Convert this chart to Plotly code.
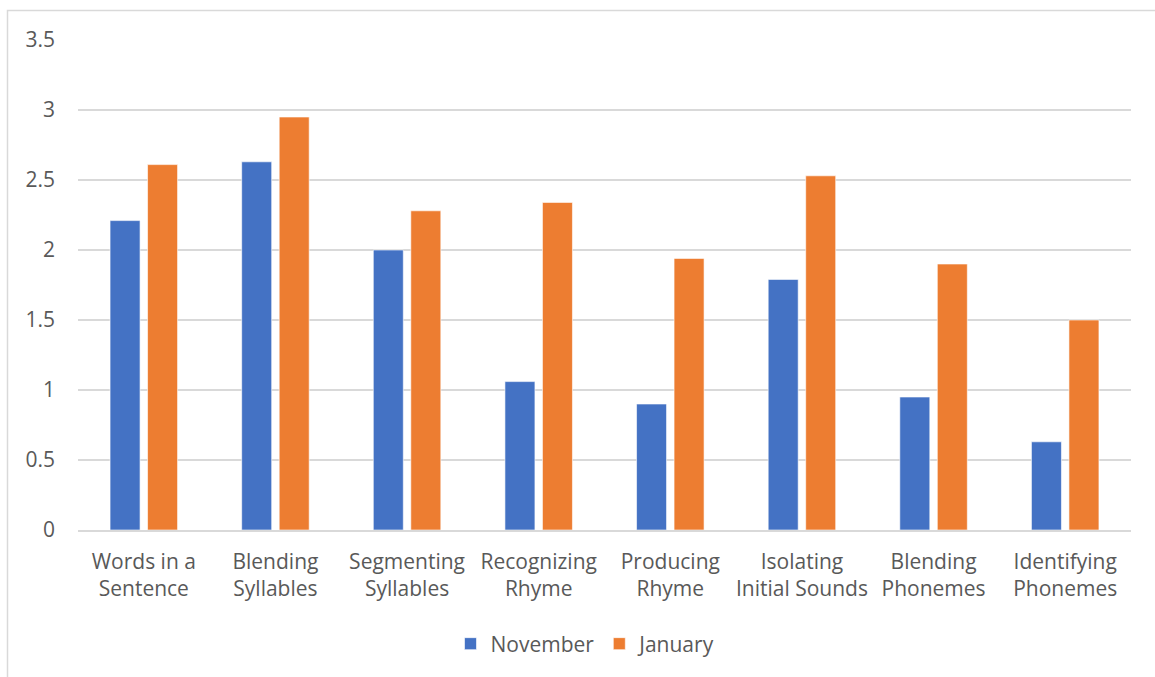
import plotly.graph_objects as go

categories = ["Words in a<br>Sentence", "Blending<br>Syllables", "Segmenting<br>Syllables",
              "Recognizing<br>Rhyme", "Producing<br>Rhyme", "Isolating<br>Initial Sounds",
              "Blending<br>Phonemes", "Identifying<br>Phonemes"]
november = [2.21, 2.63, 2.00, 1.06, 0.90, 1.79, 0.95, 0.63]
january = [2.61, 2.95, 2.28, 2.34, 1.94, 2.53, 1.90, 1.50]
y_ticks = [0, 0.5, 1, 1.5, 2, 2.5, 3, 3.5]
y_ticklabels = ["0", "0.5", "1", "1.5", "2", "2.5", "3", "3.5"]

FONT = "Open Sans"
TXT = "#595959"

fig = go.Figure()
fig.add_trace(go.Bar(x=categories, y=november, name="November",
                     marker=dict(color="#4472C4", line=dict(color="rgba(255,255,255,0.6)", width=1))))
fig.add_trace(go.Bar(x=categories, y=january, name="January",
                     marker=dict(color="#ED7D31", line=dict(color="rgba(255,255,255,0.6)", width=1))))

W, H = 1155, 677
ml, mr, mt, mb = 78, 24, 40, 147
pw = W - ml - mr
ph = H - mt - mb

def px2paper_x(px):
    return (px - ml) / pw

def px2paper_y(py):
    return (H - mb - py) / ph

fig.update_layout(
    width=W, height=H,
    margin=dict(l=ml, r=mr, t=mt, b=mb, pad=0),
    paper_bgcolor="white", plot_bgcolor="white",
    font=dict(family=FONT, size=21, color=TXT),
    barmode="group", bargap=0.43, bargroupgap=0.2,
    showlegend=True,
    legend=dict(orientation="h", x=px2paper_x(586), y=px2paper_y(644),
                xanchor="center", yanchor="middle",
                font=dict(family=FONT, size=21, color=TXT),
                itemwidth=30, traceorder="normal"),
    xaxis=dict(showgrid=False, showline=True, linecolor="#D9D9D9", linewidth=1.5,
               tickfont=dict(family=FONT, size=21, color=TXT), ticks="",
               ticklabelstandoff=12, fixedrange=True),
    yaxis=dict(range=[0, 3.5], tickvals=y_ticks, ticktext=y_ticklabels,
               showgrid=True, gridcolor="#D9D9D9", gridwidth=1.5,
               zeroline=False, showline=False, ticks="",
               ticklabelstandoff=22,
               tickfont=dict(family=FONT, size=21, color=TXT)),
    shapes=[dict(type="rect", xref="paper", yref="paper",
                 x0=px2paper_x(7.5), x1=px2paper_x(1170),
                 y0=px2paper_y(700), y1=px2paper_y(10.5),
                 line=dict(color="#D9D9D9", width=1.5), fillcolor="rgba(0,0,0,0)",
                 layer="below")],
)

fig.write_html("out.html")
